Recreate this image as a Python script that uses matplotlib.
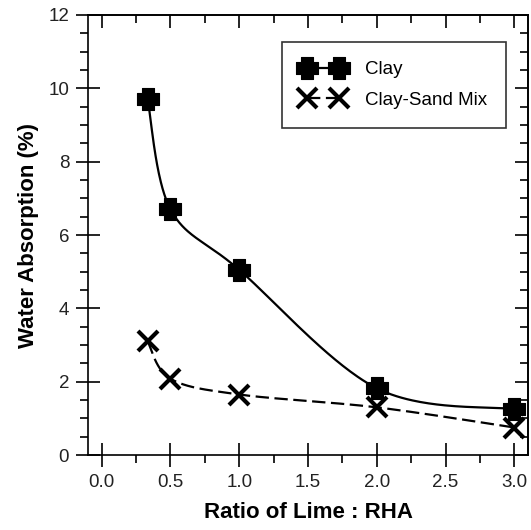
import numpy as np
import matplotlib
matplotlib.use('Agg')
import matplotlib.pyplot as plt
from matplotlib.path import Path
from matplotlib.ticker import MultipleLocator

plt.rcParams['font.family'] = ['Liberation Sans', 'DejaVu Sans']

# water absorption vs lime:RHA ratio
ratio = [1 / 3, 0.5, 1.0, 2.0, 3.0]
clay = [9.7, 6.7, 5.05, 1.82, 1.25]
clay_sand = [3.1, 2.08, 1.65, 1.3, 0.75]


def smooth(x, y, n=60):
    # Catmull-Rom style Bezier through the points (control points at +-1/6 of the neighbour chord)
    p = np.column_stack([x, y]).astype(float)
    ext = np.vstack([p[0], p, p[-1]])
    t = np.linspace(0, 1, n)[:, None]
    out = []
    for i in range(len(p) - 1):
        p0, p3 = p[i], p[i + 1]
        c1 = p0 + (ext[i + 2] - ext[i]) / 6
        c2 = p3 - (ext[i + 3] - ext[i + 1]) / 6
        seg = ((1 - t) ** 3 * p0 + 3 * (1 - t) ** 2 * t * c1
               + 3 * (1 - t) * t ** 2 * c2 + t ** 3 * p3)
        out.append(seg if i == 0 else seg[1:])
    out = np.vstack(out)
    return out[:, 0], out[:, 1]


# fat plus marker
s = 0.25
fat_plus = Path([(-s, -2 * s), (s, -2 * s), (s, -s), (2 * s, -s), (2 * s, s), (s, s),
                 (s, 2 * s), (-s, 2 * s), (-s, s), (-2 * s, s), (-2 * s, -s), (-s, -s),
                 (-s, -2 * s)], closed=True)

fig = plt.figure(figsize=(5.31, 5.30), dpi=100)
ax = fig.add_axes([0.1657, 0.1415, 0.8287, 0.8302])

xs, ys = smooth(ratio, clay)
ax.plot(xs, ys, color='black', lw=1.6)
xs2, ys2 = smooth(ratio, clay_sand)
ax.plot(xs2, ys2, color='black', lw=1.6, dashes=(6, 2.5))
ax.plot(ratio, clay, ls='none', marker=fat_plus, ms=16, mew=0.8, color='black')
ax.plot(ratio, clay_sand, ls='none', marker='x', ms=14, mew=3, color='black')

# legend proxies: two markers joined by the line style
h1, = ax.plot([], [], color='black', lw=1.6, marker=fat_plus, ms=16, mew=0.8)
h2, = ax.plot([], [], color='black', lw=1.6, dashes=(6, 2.5), marker='x', ms=14, mew=3)
leg = ax.legend([h1, h2], ['Clay', 'Clay-Sand Mix'], numpoints=2,
                loc='upper right', bbox_to_anchor=(0.95, 0.9386), borderaxespad=0,
                fontsize=13.5, frameon=True, fancybox=False, edgecolor='black',
                handlelength=2.3, handletextpad=1.09, borderpad=1.03, labelspacing=0.7)
leg.get_frame().set_linewidth(1.2)

ax.set_xlim(-0.1, 3.1)
ax.set_ylim(0, 12)
ax.xaxis.set_major_locator(MultipleLocator(0.5))
ax.xaxis.set_minor_locator(MultipleLocator(0.25))
ax.yaxis.set_major_locator(MultipleLocator(2))
ax.yaxis.set_minor_locator(MultipleLocator(0.5))
ax.xaxis.set_major_formatter(plt.FormatStrFormatter('%.1f'))

ax.tick_params(which='major', direction='inout', length=17, width=1.2,
               labelsize=13.5, labelcolor='#222222', pad=5)
ax.tick_params(which='minor', direction='out', length=5.5, width=1.2)
for sp in ax.spines.values():
    sp.set_linewidth(1.2)

# ticks on the top and right sides point inwards
top = ax.secondary_xaxis('top')
top.xaxis.set_major_locator(MultipleLocator(0.5))
top.xaxis.set_minor_locator(MultipleLocator(0.25))
top.tick_params(which='major', direction='in', length=9.5, width=1.2, labeltop=False)
top.tick_params(which='minor', direction='in', length=6, width=1.2)
top.spines['top'].set_linewidth(1.2)

right = ax.secondary_yaxis('right')
right.yaxis.set_major_locator(MultipleLocator(2))
right.yaxis.set_minor_locator(MultipleLocator(0.5))
right.tick_params(which='major', direction='in', length=9.5, width=1.2, labelright=False)
right.tick_params(which='minor', direction='in', length=6, width=1.2)
right.spines['right'].set_linewidth(1.2)

ax.set_xlabel('Ratio of Lime : RHA', fontsize=16, fontweight='bold', labelpad=8)
ax.set_ylabel('Water Absorption (%)', fontsize=16, fontweight='bold', labelpad=6.5)

fig.savefig('out.png', dpi=100, facecolor='white')
